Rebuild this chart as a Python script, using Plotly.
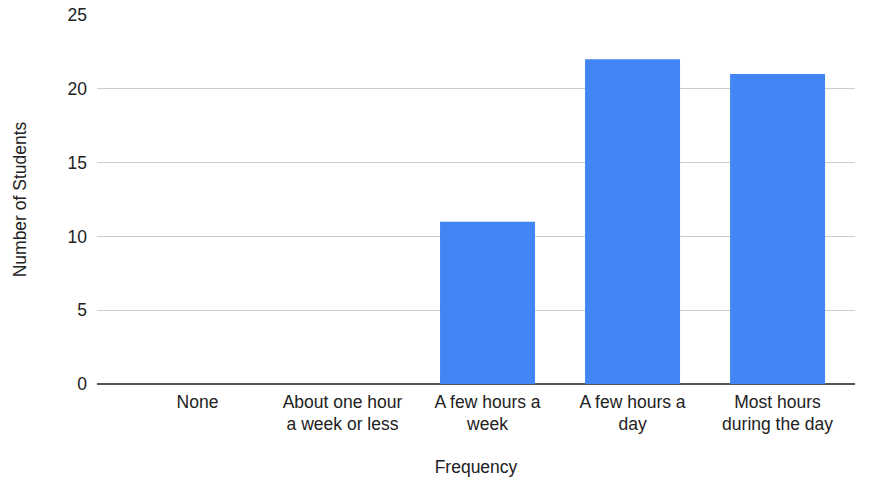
import plotly.graph_objects as go

categories = [
    "None",
    "About one hour<br>a week or less",
    "A few hours a<br>week",
    "A few hours a<br>day",
    "Most hours<br>during the day",
]
students = [0, 0, 11, 22, 21]
y_ticks = [0, 5, 10, 15, 20, 25]

font_family = "Liberation Sans, Arial, sans-serif"
text_color = "#222222"

fig = go.Figure(
    go.Bar(
        x=categories,
        y=students,
        marker=dict(color="#4285F4", line=dict(width=0)),
        width=0.655,
    )
)

fig.update_layout(
    width=873,
    height=481,
    margin=dict(l=97, r=18, t=15, b=97),
    paper_bgcolor="white",
    plot_bgcolor="white",
    font=dict(family=font_family, size=17.5, color=text_color),
    showlegend=False,
)

fig.update_xaxes(
    type="category",
    range=[-0.693, 4.534],
    showgrid=False,
    showline=False,
    ticks="",
    ticklabelstandoff=5,
    tickfont=dict(size=17.5, color=text_color),
    title=dict(text="Frequency", standoff=27, font=dict(size=17.5, color=text_color)),
    automargin=False,
)

fig.update_yaxes(
    range=[0, 25],
    tickvals=y_ticks,
    showgrid=True,
    gridcolor="#cccccc",
    gridwidth=1,
    zeroline=True,
    zerolinecolor="#555555",
    zerolinewidth=1.5,
    showline=False,
    ticks="",
    ticklabelstandoff=9,
    tickfont=dict(size=17.5, color=text_color),
    title=dict(text="Number of Students", standoff=36, font=dict(size=17.5, color=text_color)),
    automargin=False,
)

fig.write_html("out.html")
